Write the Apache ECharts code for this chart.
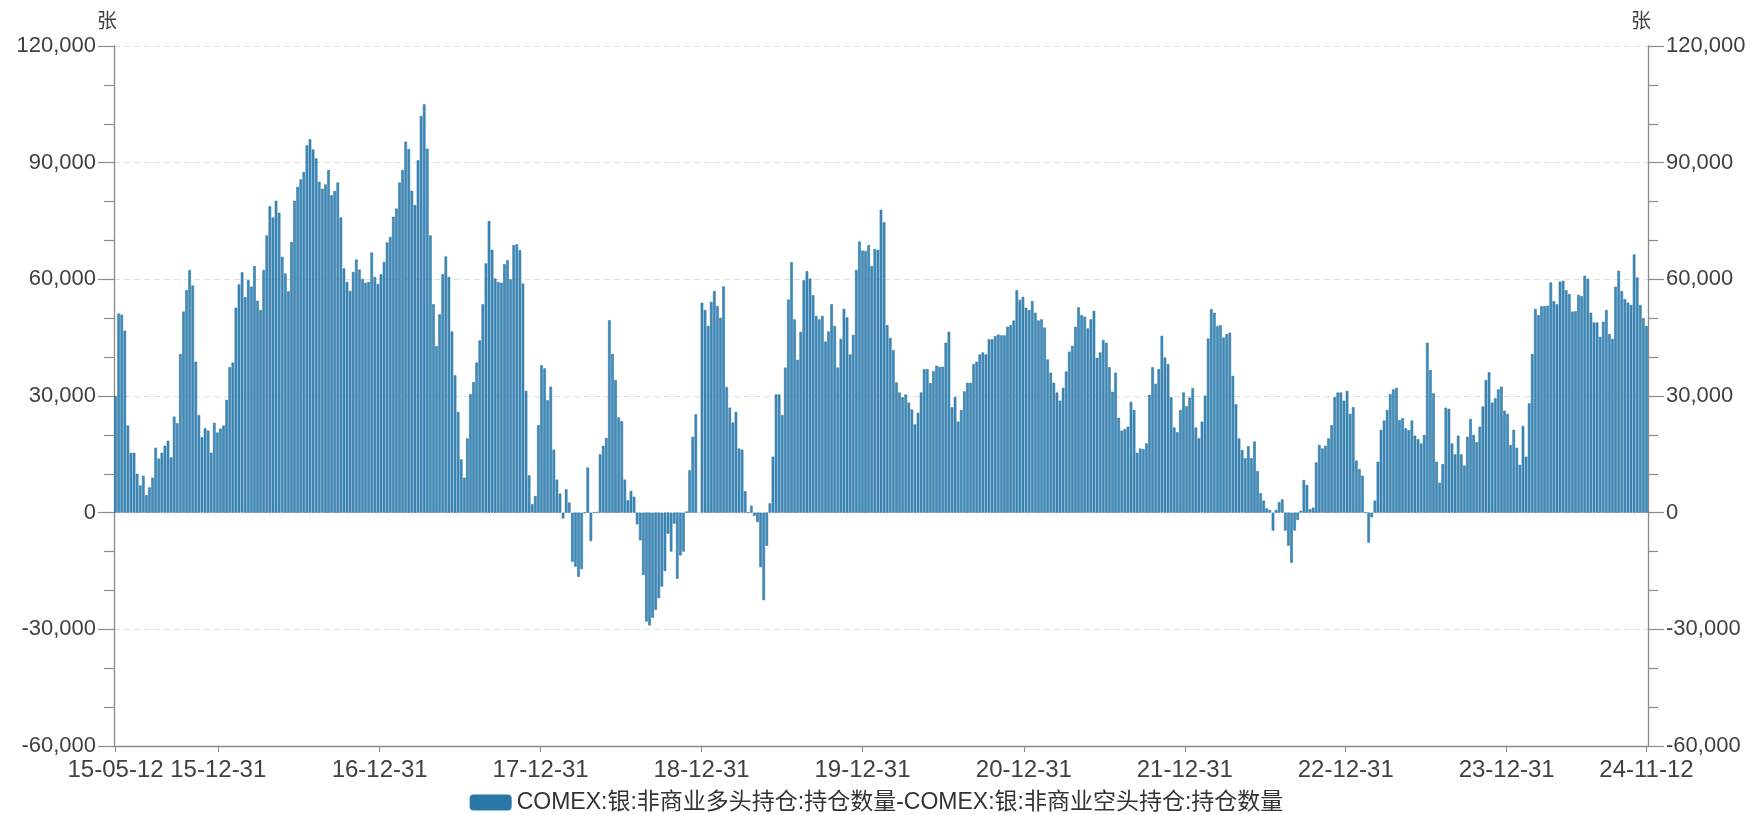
<!DOCTYPE html>
<html>
<head>
<meta charset="utf-8">
<script src="https://cdn.jsdelivr.net/npm/echarts@6/dist/echarts.min.js"></script>
<style>
html,body{margin:0;padding:0;background:#ffffff;}
#chart{width:1753px;height:815px;}
</style>
</head>
<body>
<div id="chart"></div>
<script>
// ---- data (weekly, every Tuesday from 2015-05-12 to 2024-11-12) ----
const firstWeek = [2015, 5, 12];
const seriesName = 'COMEX:银:非商业多头持仓:持仓数量-COMEX:银:非商业空头持仓:持仓数量';
const unitName = '张';
const xLabelDates = ['2015-05-12','2015-12-31','2016-12-31','2017-12-31','2018-12-31','2019-12-31',
  '2020-12-31','2021-12-31','2022-12-31','2023-12-31','2024-11-12'];
const yMin = -60000, yMax = 120000, yStep = 30000;

const net2015 = [30000,51200,50900,46800,22400,15400,15400,10000,7000,9500,4500,6500,9000,16700,13900,15400,
  17200,18500,14200,24700,23000,40800,51700,57200,62400,58400,38800,25100,19400,21700,21100,15400,23100,20600];
const net2016 = [21600,22400,29000,37400,38600,52700,58700,61800,55400,59800,58100,63400,54500,52100,62400,71300,
  78800,75900,80200,77100,65800,61500,56900,69600,80200,83800,85700,87600,94500,96000,93400,91100,
  85100,83300,84400,88100,81600,82700,84900,75900,62800,59300,57000,61900,65100,62500,60100,59100,
  59300,66900,60600,58800];
const net2017 = [61300,64500,69500,70900,76100,78200,84900,88100,95400,93500,82800,79100,90600,102000,105000,93600,
  71300,53600,42800,51000,61300,65900,60600,46600,35300,25900,13700,9000,19100,30500,33600,38600,
  44300,53600,64100,75000,67600,60200,59300,59100,63900,64900,60000,68800,69000,67500,58900,31300,
  9600,2200,4300,22500];
const net2018 = [37900,37100,28900,32400,16200,8500,4900,-1500,6000,2600,-12600,-13900,-16500,-14500,0,11600,
  -7300,0,200,15000,17200,19200,49500,40800,34100,24500,23500,8500,3200,5600,4100,-3000,
  -7100,-16000,-28000,-29000,-27000,-25000,-22000,-19000,-15000,-5400,-10000,-2800,-17000,-11000,-10000,300,
  10900,19500,25300,null];
const net2019 = [54000,52100,48000,54200,57000,53100,50100,58200,32300,27000,23200,25900,16500,16200,5500,0,
  1800,-800,-2400,-14000,-22500,-8500,2400,14400,30400,30400,25100,37300,54800,64400,49700,39300,
  46500,59800,62100,60200,55900,50600,49700,50600,44000,46600,53600,48000,37300,44700,52400,50200,
  40700,45700,62400,69700];
const net2020 = [67400,67300,68800,63400,67800,67600,77900,74700,48200,44900,41800,33500,30900,29700,30400,28300,
  26500,22700,25700,30900,36900,36900,33300,36400,37800,37500,37500,43700,46500,27100,29700,23400,
  26400,31200,33400,33400,38200,38800,40700,41200,40700,44600,44600,45400,45800,45600,45600,47800,
  48200,49400,57200,54700];
const net2021 = [55500,52700,52100,54400,51400,49400,49700,47600,39400,36000,33400,30900,28800,32100,36300,41400,
  42900,47800,52800,50800,50400,47400,49700,51900,39800,41200,44400,43700,37400,31100,36000,24400,
  21100,21500,22100,28500,26400,15400,16500,16300,17800,30300,37400,33100,36900,45500,39900,38200,
  29700,21900,20700,26400];
const net2022 = [30900,27400,29600,32000,21900,19100,23400,30100,44800,52300,51400,48000,48200,45000,45900,46300,
  35200,27900,19100,16100,14000,17100,14000,18300,10700,5000,3100,1100,700,-4600,700,2700,
  3400,-4600,-8500,-12900,-4600,-1900,500,8400,7100,900,1300,12900,17400,16500,17200,19100,
  22500,29700,30900,30900];
const net2023 = [28800,31300,25400,27100,13400,11200,9500,0,-7700,-1200,3100,13100,21300,23700,26400,30500,
  31700,32100,23800,24300,21700,21200,23700,19800,18900,17800,20000,43700,36700,30700,13100,7700,
  12500,27000,26700,17800,15000,19800,15000,12100,19500,24100,20000,18100,22100,27300,34100,36100,
  28300,29400,31700,32400];
const net2024 = [26200,25400,17400,21300,16700,12300,22300,14400,28100,40800,52400,50800,53100,53100,53200,59200,
  54400,53600,59400,59600,57200,56200,51700,51800,56000,55700,60900,60100,51400,48900,48900,45200,
  49100,52100,45900,44700,58100,62200,57000,54900,54000,53400,66400,60500,53400,50000,48000];

// ---- build ----
const netValues = [].concat(net2015, net2016, net2017, net2018, net2019, net2020, net2021, net2022, net2023, net2024);
const DAY = 86400000;
const start = new Date(firstWeek[0], firstWeek[1] - 1, firstWeek[2]);
const seriesData = netValues.map(function (v, i) {
  const d = new Date(start.getFullYear(), start.getMonth(), start.getDate() + 7 * i);
  return [d.getTime(), v];
});
function parseDay(s) { const p = s.split('-').map(Number); return new Date(p[0], p[1] - 1, p[2]).getTime(); }
const labelValues = xLabelDates.map(parseDay);
const xMin = seriesData[0][0] - 3.5 * DAY;
const xMax = seriesData[seriesData.length - 1][0] + 3.5 * DAY;
function pad(n) { return (n < 10 ? '0' : '') + n; }
function fmtDate(v) {
  const d = new Date(v);
  return String(d.getFullYear()).slice(2) + '-' + pad(d.getMonth() + 1) + '-' + pad(d.getDate());
}
function fmtNum(v) { return Number(v).toLocaleString('en-US'); }

const FONT = '"Liberation Sans", "Noto Sans CJK SC", sans-serif';
const axisGray = '#8a8a8a';
const textColor = '#404040';

function yAxis(pos) {
  return {
    type: 'value', position: pos, min: yMin, max: yMax, interval: yStep,
    name: unitName, nameLocation: 'end', nameGap: 14,
    nameTextStyle: { color: textColor, fontSize: 20, fontFamily: FONT, align: 'center', padding: [0, 14, 0, 0] },
    axisLine: { show: true, lineStyle: { color: axisGray, width: 1.3 } },
    axisTick: { show: true, length: 16, lineStyle: { color: axisGray, width: 1.2 } },
    minorTick: { show: true, splitNumber: 3, length: 10, lineStyle: { color: axisGray, width: 1.2 } },
    axisLabel: { color: textColor, fontSize: 22, fontFamily: FONT, margin: 18, formatter: fmtNum },
    splitLine: { show: pos === 'left', lineStyle: { color: '#dedede', type: [6, 4], width: 1 } }
  };
}

const chart = echarts.init(document.getElementById('chart'), null, { renderer: 'canvas' });
chart.setOption({
  animation: false,
  backgroundColor: '#ffffff',
  grid: { left: 114, right: 105, top: 46, bottom: 69, containLabel: false },
  legend: {
    bottom: 0, left: 'center', icon: 'roundRect', itemWidth: 42, itemHeight: 16, itemGap: 10,
    padding: [0, 5, 1, 5],
    textStyle: { color: '#333333', fontSize: 23, fontFamily: FONT },
    data: [{ name: seriesName, itemStyle: { color: '#2a78a8', borderWidth: 0 } }]
  },
  xAxis: {
    type: 'value', min: xMin, max: xMax, scale: true,
    axisLine: { show: true, onZero: false, lineStyle: { color: axisGray, width: 1.3 } },
    axisTick: { show: true, customValues: labelValues, length: 6, lineStyle: { color: axisGray } },
    axisLabel: { customValues: labelValues, formatter: fmtDate, color: textColor, fontSize: 24,
      fontFamily: FONT, margin: 12, hideOverlap: false, showMinLabel: true, showMaxLabel: true },
    splitLine: { show: false }
  },
  yAxis: [yAxis('left'), yAxis('right')],
  series: [{
    name: seriesName, type: 'bar', data: seriesData, barWidth: 2.6, yAxisIndex: 0,
    itemStyle: { color: '#3f8ab8', borderColor: '#236f9f', borderWidth: 0.5 }
  }]
});
</script>
</body>
</html>
